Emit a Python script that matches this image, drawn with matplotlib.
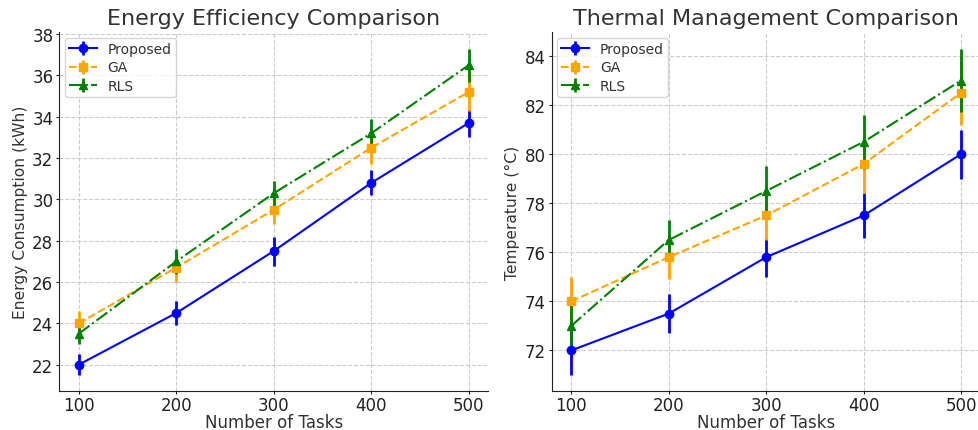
import matplotlib
matplotlib.use("Agg")
import matplotlib.pyplot as plt

tasks = [100, 200, 300, 400, 500]

energy_proposed = [22.0, 24.5, 27.5, 30.8, 33.7]
energy_proposed_err = [0.5, 0.6, 0.7, 0.6, 0.7]
energy_ga = [24.0, 26.7, 29.5, 32.5, 35.2]
energy_ga_err = [0.6, 0.7, 0.7, 0.8, 0.9]
energy_rls = [23.5, 27.0, 30.3, 33.2, 36.5]
energy_rls_err = [0.5, 0.6, 0.6, 0.7, 0.8]

temp_proposed = [72.0, 73.5, 75.8, 77.5, 80.0]
temp_proposed_err = [1.0, 0.8, 0.8, 0.9, 1.0]
temp_ga = [74.0, 75.8, 77.5, 79.6, 82.5]
temp_ga_err = [1.0, 0.9, 1.0, 1.2, 1.3]
temp_rls = [73.0, 76.5, 78.5, 80.5, 83.0]
temp_rls_err = [1.0, 0.8, 1.0, 1.1, 1.3]

text_color = "#333333"
plt.rcParams.update({
    "font.family": "DejaVu Sans",
    "text.color": text_color,
    "axes.labelcolor": text_color,
    "xtick.color": "#222222",
    "ytick.color": "#222222",
    "axes.edgecolor": "#222222",
})

W, H = 979, 431
fig = plt.figure(figsize=(W / 100, H / 100), dpi=100)
bottom = 1 - 392.3 / H
height = (392.3 - 33.3) / H
width = (488.2 - 59.3) / W
ax1 = fig.add_axes([59.3 / W, bottom, width, height])
ax2 = fig.add_axes([551.7 / W, bottom, width, height])

panels = [
    (ax1, "Energy Efficiency Comparison", "Energy Consumption (kWh)",
     (energy_proposed, energy_proposed_err), (energy_ga, energy_ga_err), (energy_rls, energy_rls_err)),
    (ax2, "Thermal Management Comparison", "Temperature (°C)",
     (temp_proposed, temp_proposed_err), (temp_ga, temp_ga_err), (temp_rls, temp_rls_err)),
]

for ax, title, ylabel, p, g, r in panels:
    ax.errorbar(tasks, p[0], yerr=p[1], fmt="-o", color="blue", label="Proposed",
                linewidth=1.5, markersize=6, elinewidth=2)
    ax.errorbar(tasks, g[0], yerr=g[1], fmt="--s", color="orange", label="GA",
                linewidth=1.5, markersize=6, elinewidth=2)
    ax.errorbar(tasks, r[0], yerr=r[1], fmt="-.^", color="green", label="RLS",
                linewidth=1.5, markersize=6, elinewidth=2)
    ax.set_title(title, fontsize=16, color=text_color)
    ax.set_xlabel("Number of Tasks", fontsize=12, labelpad=-0.7)
    ax.set_ylabel(ylabel, fontsize=11.2, labelpad=3)
    ax.set_xticks(tasks)
    ax.tick_params(labelsize=12, length=2.5, pad=1.8)
    ax.tick_params(axis="x", pad=0.6)
    ax.grid(True, linestyle="--", color="#cccccc", linewidth=0.8)
    ax.set_axisbelow(True)
    ax.spines["top"].set_visible(False)
    ax.spines["right"].set_visible(False)
    ax.legend(loc="upper left", fontsize=10, labelspacing=0.34, borderpad=0.28,
              borderaxespad=0.4)

fig.savefig("out.png", dpi=100)
